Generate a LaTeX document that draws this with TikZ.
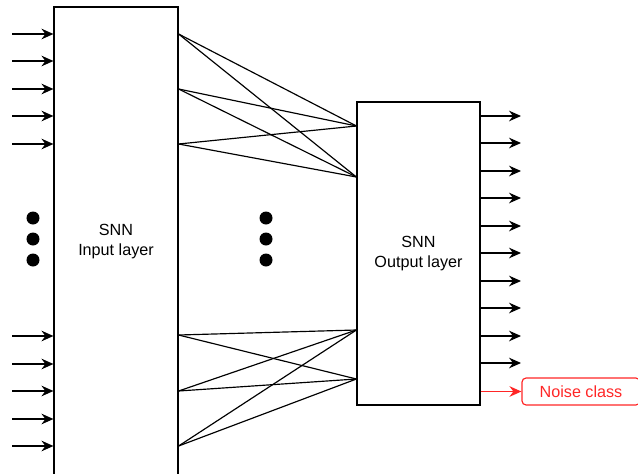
\documentclass[tikz,border=0pt]{standalone}
\usepackage{fontspec}
\setmainfont{Liberation Sans}
\usepackage{xcolor}
\usepackage{tikz}
\usetikzlibrary{
    arrows.meta,
    positioning
}
\definecolor{noisered}{HTML}{FF2626}

\begin{document}
\begin{tikzpicture}[
    x=0.03cm, y=-0.03cm,
    layer/.style={rectangle, draw=black, line width=1pt, fill=white, align=center, font=\fontsize{13.8}{17}\selectfont},
    sig/.style={-{Stealth[length=3.6mm, width=3.2mm, inset=1.2mm]}, line width=1pt},
    wire/.style={line width=1pt},
    dot/.style={circle, fill=black, inner sep=0pt, minimum size=0.39cm},
    noisebox/.style={rectangle, rounded corners=3.5pt, draw=noisered, line width=1pt, text=noisered, minimum width=3.54cm, minimum height=0.81cm, font=\fontsize{13.8}{17}\selectfont},
]
    \useasboundingbox (0,0) rectangle (638,474);

    % Layers
    \node[layer, minimum width=3.72cm, minimum height=14.07cm] (in) at (116,241.5) {SNN\\Input layer};
    \node[layer, minimum width=3.69cm, minimum height=9.09cm] (out) at (418.5,253.5) {SNN\\Output layer};
    \node[noisebox] (noise) at (581,391.5) {Noise class};

    % Input spikes
    \foreach \y [count=\i] in {34,61,89,116,144,336,364,391,419,446} {
        \coordinate (s\i) at (12,\y);
        \draw[sig] (s\i) -- (s\i -| in.west);
    }
    \node[dot] (d1) at (33,218) {};
    \node[dot] (d2) at (33,239) {};
    \node[dot] (d3) at (33,260) {};

    % Upper connections
    \coordinate (a1) at (in.east |- 0,34);
    \coordinate (a2) at (in.east |- 0,89);
    \coordinate (a3) at (in.east |- 0,144);
    \coordinate (b1) at (out.west |- 0,126);
    \coordinate (b2) at (out.west |- 0,177);
    \draw[wire] (a1) -- (b1);
    \draw[wire] (a1) -- (b2);
    \draw[wire] (a2) -- (b1);
    \draw[wire] (a2) -- (b2);
    \draw[wire] (a3) -- (b1);
    \draw[wire] (a3) -- (b2);

    \node[dot] (d4) at (266,218) {};
    \node[dot] (d5) at (266,239) {};
    \node[dot] (d6) at (266,260) {};

    % Lower connections
    \coordinate (a4) at (in.east |- 0,335);
    \coordinate (a5) at (in.east |- 0,391);
    \coordinate (a6) at (in.east |- 0,446);
    \coordinate (b3) at (out.west |- 0,330);
    \coordinate (b4) at (out.west |- 0,379);
    \draw[wire] (a4) -- (b3);
    \draw[wire] (a4) -- (b4);
    \draw[wire] (a5) -- (b3);
    \draw[wire] (a5) -- (b4);
    \draw[wire] (a6) -- (b3);
    \draw[wire] (a6) -- (b4);

    % Output spikes
    \foreach \y [count=\i] in {116,143,171,198,226,253,281,308,336,363} {
        \coordinate (o\i) at (out.east |- 0,\y);
        \coordinate (t\i) at (521,\y);
        \draw[sig] (o\i) -- (t\i);
    }
    \draw[sig, noisered] (out.east |- noise.west) -- (noise.west);

\end{tikzpicture}
\end{document}
